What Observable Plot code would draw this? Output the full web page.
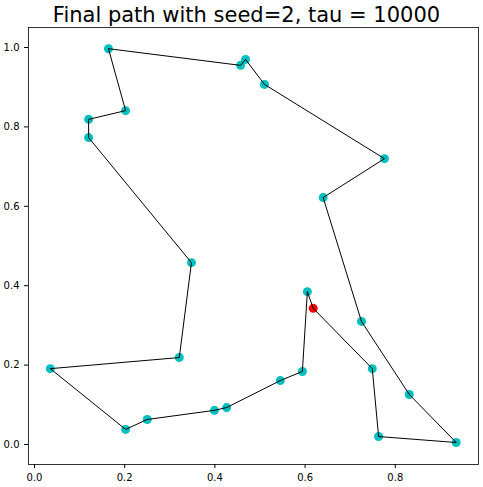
<!DOCTYPE html>
<html>
<head>
<meta charset="utf-8">
<script src="https://cdn.jsdelivr.net/npm/d3@7"></script>
<script src="https://cdn.jsdelivr.net/npm/@observablehq/plot@0.6"></script>
<style>
  body { margin: 0; background: white; font-family: "DejaVu Sans", sans-serif; }
  #title { height: 27px; line-height: 30px; text-align: center; font-size: 21px; padding-left: 10px; }
</style>
</head>
<body>
<div id="title">Final path with seed=2, tau = 10000</div>
<div id="chart"></div>
<script>
// path order, starting at the red point
const xs = [0.618, 0.605, 0.594, 0.545, 0.426, 0.399, 0.250, 0.202, 0.035, 0.321, 0.348, 0.120, 0.120, 0.202, 0.164, 0.457, 0.468, 0.510, 0.776, 0.640, 0.725, 0.831, 0.935, 0.763, 0.749];
const ys = [0.343, 0.385, 0.184, 0.161, 0.093, 0.086, 0.063, 0.038, 0.191, 0.219, 0.458, 0.773, 0.819, 0.841, 0.997, 0.955, 0.970, 0.907, 0.720, 0.622, 0.310, 0.126, 0.005, 0.020, 0.191];
const xTicks = [0.0, 0.2, 0.4, 0.6, 0.8];
const yTicks = [0.0, 0.2, 0.4, 0.6, 0.8, 1.0];

const pts = xs.map((x, i) => ({x, y: ys[i]}));
const loop = [...pts, pts[0]];

let chart = Plot.plot({
  width: 483,
  height: 460,
  marginTop: 0,
  marginBottom: 23,
  marginLeft: 28,
  marginRight: 5,
  style: { "font-size": "10px", "font-family": "DejaVu Sans", color: "black" },
  x: { domain: [-0.0133, 0.9845], ticks: xTicks, tickFormat: d3.format(".1f"), label: null, tickSize: 4 },
  y: { domain: [-0.0504, 1.0504], ticks: yTicks, tickFormat: d3.format(".1f"), label: null, tickSize: 4 },
  marks: [
    Plot.frame({ stroke: "black", strokeWidth: 0.8 }),
    Plot.dot(pts.slice(1), { x: "x", y: "y", r: 4.5, fill: "#00bfbf", stroke: "none" }),
    Plot.dot([pts[0]], { x: "x", y: "y", r: 4.5, fill: "red", stroke: "none" }),
    Plot.line(loop, { x: "x", y: "y", stroke: "black", strokeWidth: 1, curve: "linear" })
  ]
});
d3.select("#chart").append(() => chart);
</script>
</body>
</html>
